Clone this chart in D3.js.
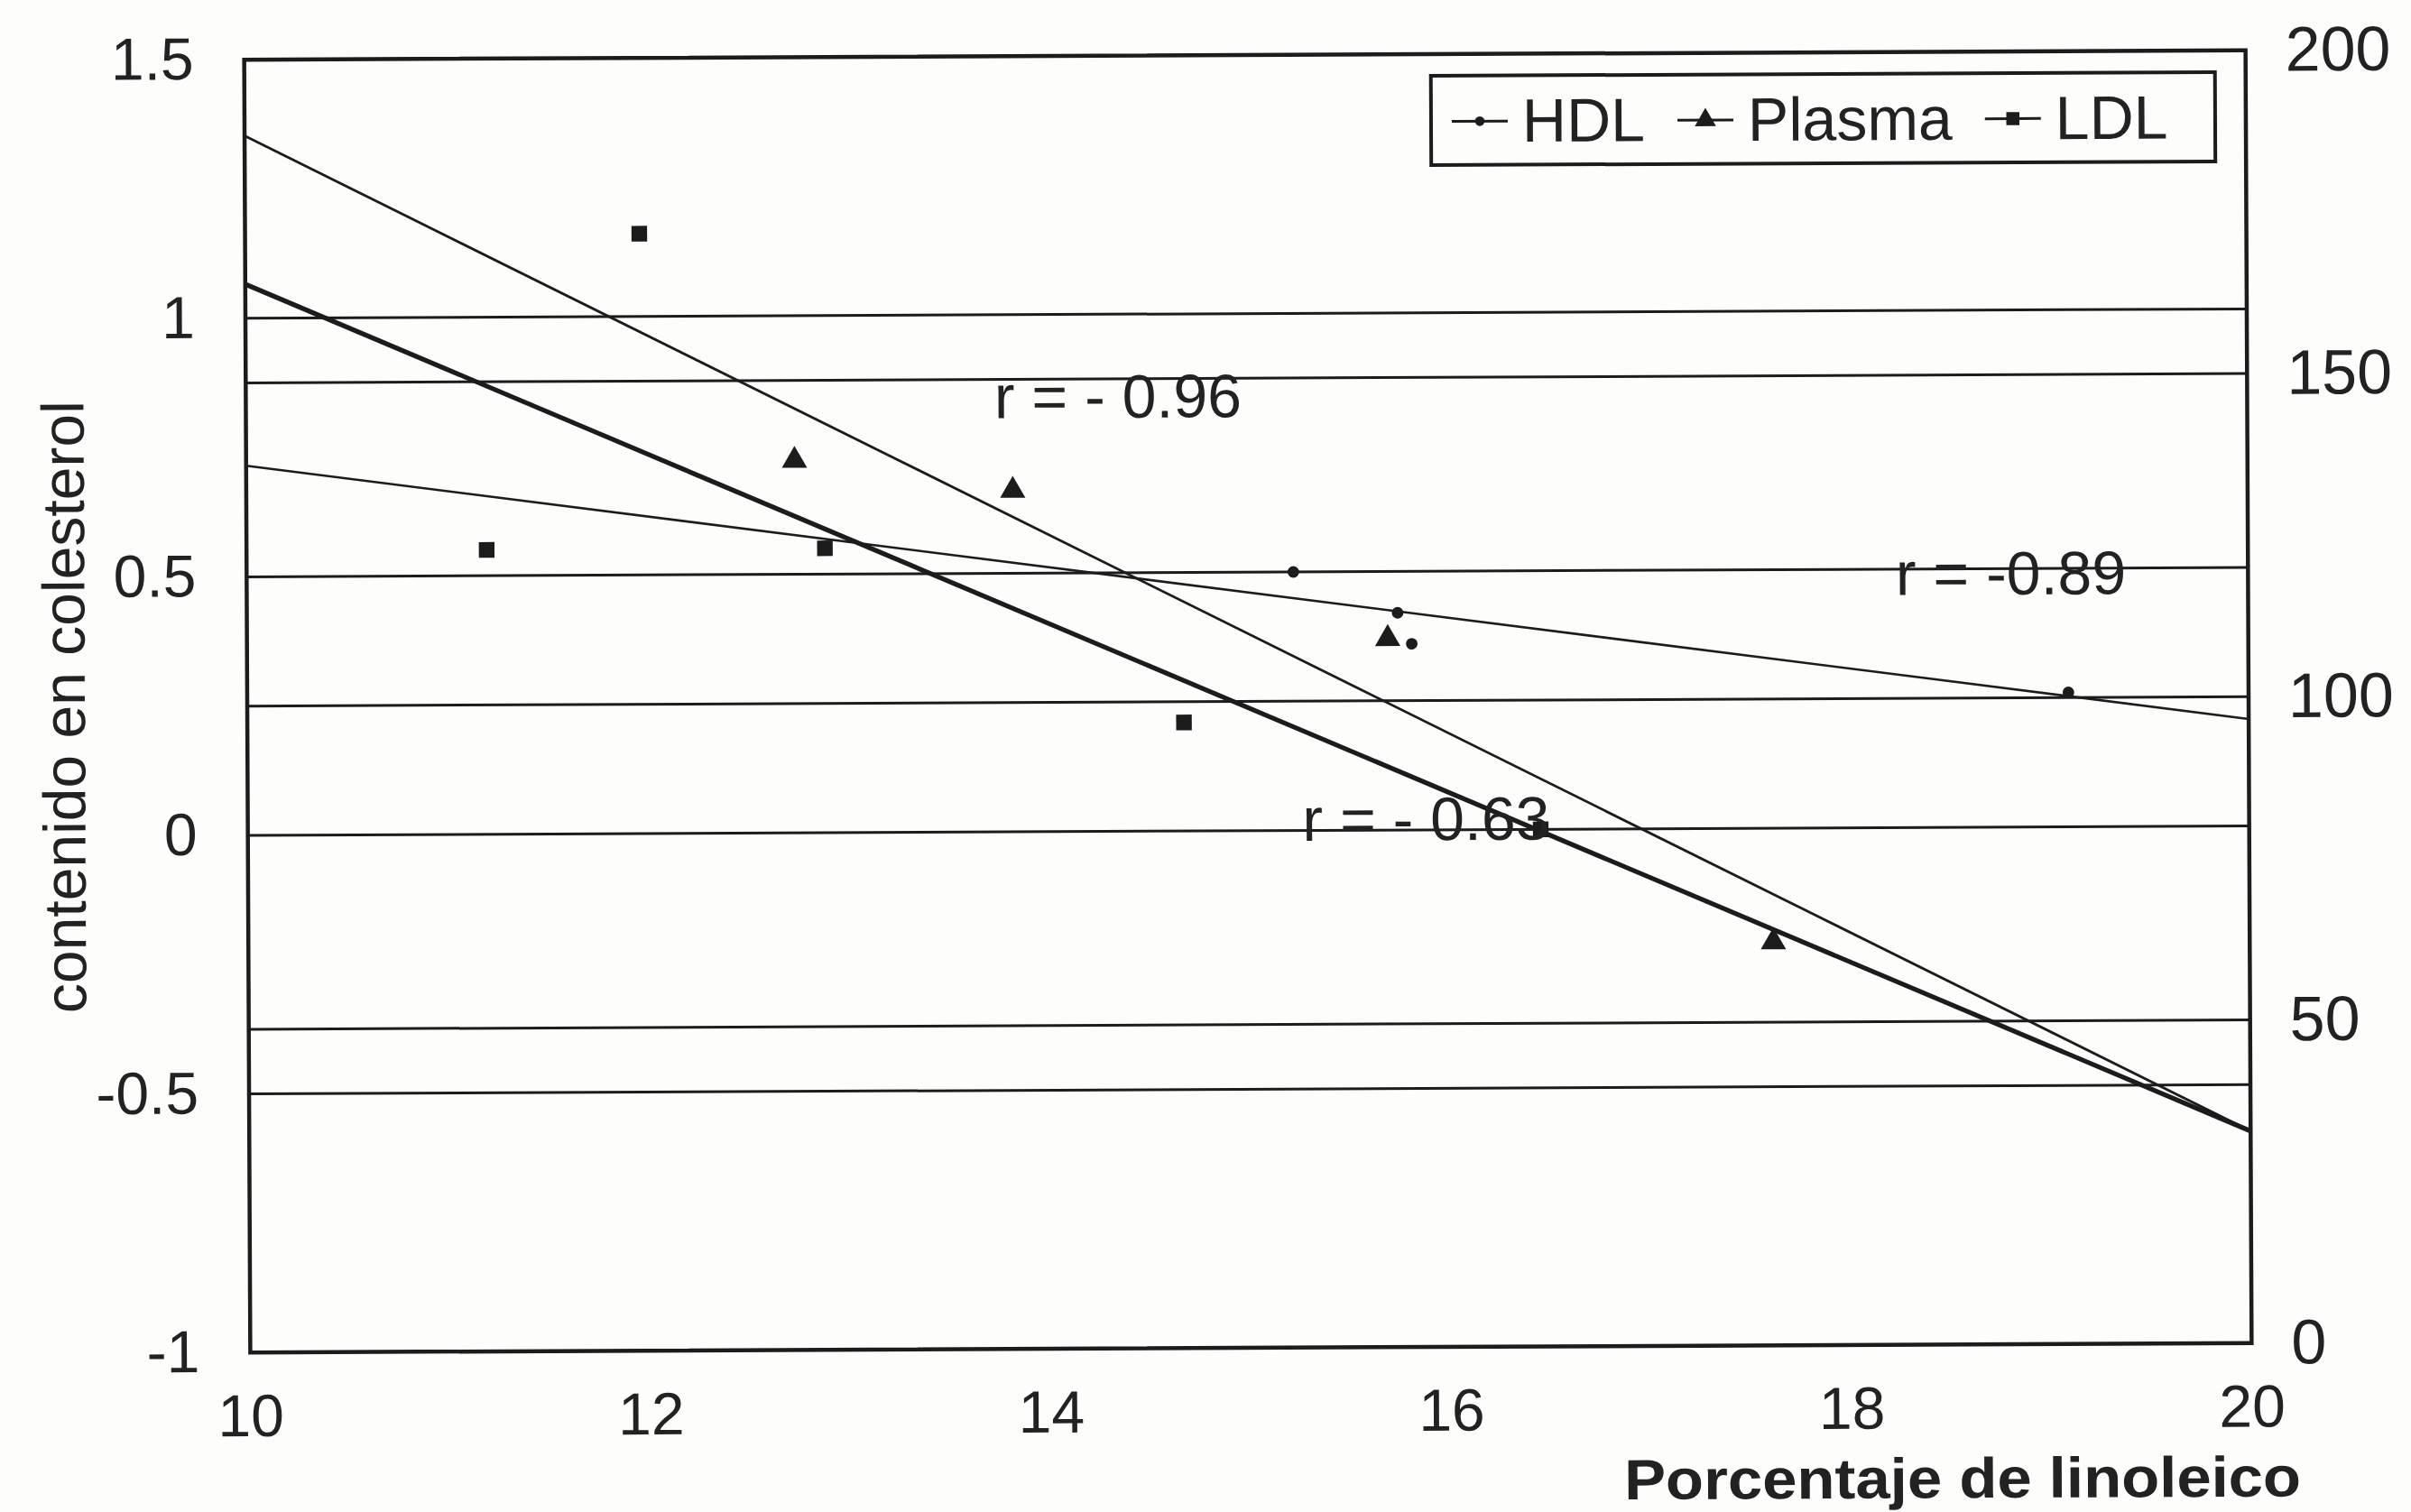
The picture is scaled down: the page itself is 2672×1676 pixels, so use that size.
<!DOCTYPE html>
<html>
<head>
<meta charset="utf-8">
<script src="https://cdn.jsdelivr.net/npm/d3@7"></script>
<style>
  html, body { margin: 0; padding: 0; background: #fdfdfc; }
  svg { display: block; }
  text { font-family: "Liberation Sans", Arial, Helvetica, sans-serif; fill: #222; }
</style>
</head>
<body>
<script>
// Axis ticks
const xTicks = [10, 12, 14, 16, 18, 20];
const yLeftTicks = [-1, -0.5, 0, 0.5, 1, 1.5];
const yRightTicks = [0, 50, 100, 150, 200];

// Measured points (porcentaje de linoleico vs contenido en colesterol)
const hdlX = [15.23, 15.75, 15.82, 19.10];
const hdlY = [0.50, 0.42, 0.36, 0.26];
const plasmaX = [12.74, 13.83, 15.70, 17.62];
const plasmaY = [0.72, 0.66, 0.37, -0.22];
const ldlX = [11.20, 11.97, 12.89, 14.68, 16.46];
const ldlY = [0.55, 1.16, 0.55, 0.21, 0.00];

// Fitted regression lines, evaluated at the ends of the x range
const fitX = [10, 20];
const hdlFit = [0.715, 0.207];
const plasmaFit = [1.353, -0.590];
const ldlFit = [1.066, -0.590];

// Correlation labels: text and anchor in data units
const rLabels = ["r = - 0.96", "r = -0.89", "r = - 0.63"];
const rLabelX = [13.74, 18.24, 15.27];
const rLabelY = [0.80, 0.45, -0.02];

const legendNames = ["HDL", "Plasma", "LDL"];

const W = 2672, H = 1676;
const pLeft = 274, pRight = 2492, pTop = 61, pBottom = 1494;

const x = d3.scaleLinear().domain([10, 20]).range([pLeft, pRight]);
const yL = d3.scaleLinear().domain([-1, 1.5]).range([pBottom, pTop]);
const yR = d3.scaleLinear().domain([0, 200]).range([pBottom, pTop]);

const ink = "#1c1c1c";

const svg = d3.select("body").append("svg")
  .attr("width", W).attr("height", H);

svg.append("rect").attr("width", W).attr("height", H).attr("fill", "#fdfdfc");

// whole figure sits slightly askew on the page
const g = svg.append("g")
  .attr("transform", `rotate(-0.27, ${(pLeft + pRight) / 2}, ${(pTop + pBottom) / 2})`);

// horizontal grid lines for both value axes
const gridVals = [
  ...yLeftTicks.filter(d => d > -1 && d < 1.5).map(d => yL(d)),
  ...yRightTicks.filter(d => d > 0 && d < 200).map(d => yR(d))
];
g.append("g").selectAll("line").data(gridVals).join("line")
  .attr("x1", pLeft).attr("x2", pRight)
  .attr("y1", d => d).attr("y2", d => d)
  .attr("stroke", ink).attr("stroke-width", 3);

// axes (labels only, no tick marks)
const fontSize = 66;
const axL = g.append("g").attr("transform", `translate(${pLeft},0)`)
  .call(d3.axisLeft(yL).tickValues(yLeftTicks).tickSize(0).tickPadding(56).tickFormat(d => String(d)));
const axR = g.append("g").attr("transform", `translate(${pRight},0)`)
  .call(d3.axisRight(yR).tickValues(yRightTicks).tickSize(0).tickPadding(44).tickFormat(d => String(d)));
const axB = g.append("g").attr("transform", `translate(0,${pBottom})`)
  .call(d3.axisBottom(x).tickValues(xTicks).tickSize(0).tickPadding(46).tickFormat(d => String(d)));
[axL, axR, axB].forEach(a => {
  a.select(".domain").remove();
  a.selectAll("text").attr("font-size", fontSize).attr("fill", "#222")
    .style("font-family", '"Liberation Sans", Arial, sans-serif');
});
axR.selectAll("text").attr("font-size", 70);

// plot frame
g.append("rect")
  .attr("x", pLeft).attr("y", pTop)
  .attr("width", pRight - pLeft).attr("height", pBottom - pTop)
  .attr("fill", "none").attr("stroke", ink).attr("stroke-width", 4.5);

// regression lines
const line = d3.line().x(d => x(d[0])).y(d => yL(d[1]));
const fits = [
  { v: plasmaFit, w: 2.8 },
  { v: hdlFit, w: 2.6 },
  { v: ldlFit, w: 5.2 }
];
g.append("g").selectAll("path").data(fits).join("path")
  .attr("d", f => line(fitX.map((xv, i) => [xv, f.v[i]])))
  .attr("fill", "none").attr("stroke", ink).attr("stroke-width", f => f.w);

// data points
const series = [
  { xs: hdlX, ys: hdlY, sym: d3.symbolCircle, size: 130 },
  { xs: plasmaX, ys: plasmaY, sym: d3.symbolTriangle, size: 340 },
  { xs: ldlX, ys: ldlY, sym: d3.symbolSquare, size: 300 }
];
series.forEach(s => {
  g.append("g").selectAll("path").data(s.xs.map((xv, i) => [xv, s.ys[i]])).join("path")
    .attr("transform", d => `translate(${x(d[0])},${yL(d[1])})`)
    .attr("d", d3.symbol().type(s.sym).size(s.size))
    .attr("fill", ink);
});

// correlation labels
g.append("g").selectAll("text").data(rLabels).join("text")
  .attr("x", (d, i) => x(rLabelX[i]))
  .attr("y", (d, i) => yL(rLabelY[i]))
  .attr("font-size", 68)
  .attr("fill", (d, i) => i === 0 ? "#222" : "#4a4a4a")
  .text(d => d);

// legend
const lgX = 1589, lgY = 85, lgW = 869, lgH = 99;
const lg = g.append("g");
lg.append("rect").attr("x", lgX).attr("y", lgY).attr("width", lgW).attr("height", lgH)
  .attr("fill", "#fdfdfc").attr("stroke", ink).attr("stroke-width", 4);
let cx = lgX + 23;
const lgMid = lgY + lgH / 2 + 1;
legendNames.forEach((name, i) => {
  const segLen = 62;
  lg.append("line").attr("x1", cx).attr("x2", cx + segLen)
    .attr("y1", lgMid).attr("y2", lgMid)
    .attr("stroke", ink).attr("stroke-width", 3);
  lg.append("path")
    .attr("transform", `translate(${cx + segLen / 2},${lgMid})`)
    .attr("d", d3.symbol().type(series[i].sym).size(series[i].size * 0.7))
    .attr("fill", ink);
  const t = lg.append("text").attr("x", cx + segLen + 16).attr("y", lgMid + 23)
    .attr("font-size", 68).text(name);
  cx += segLen + 16 + t.node().getComputedTextLength() + 36;
});

// axis titles
g.append("text")
  .attr("transform", `translate(94,${(pTop + pBottom) / 2}) rotate(-90)`)
  .attr("text-anchor", "middle")
  .attr("font-size", 66)
  .text("contenido en colesterol");

g.append("text")
  .attr("x", 2546).attr("y", 1664)
  .attr("text-anchor", "end")
  .attr("font-size", 63).attr("font-weight", "bold")
  .attr("textLength", 750).attr("lengthAdjust", "spacingAndGlyphs")
  .text("Porcentaje de linoleico");
</script>
</body>
</html>
